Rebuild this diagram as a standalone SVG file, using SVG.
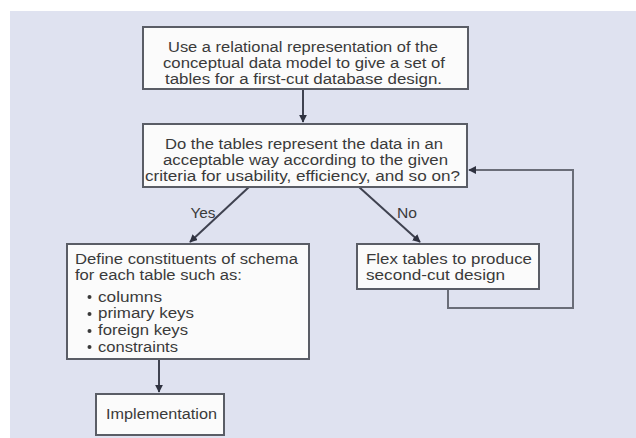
<svg xmlns="http://www.w3.org/2000/svg" width="636" height="438" viewBox="0 0 636 438">
<defs>
<style>
.box{fill:#fbfbfb;stroke:#5a5d66;stroke-width:2}
.t{font-family:"Liberation Sans",Arial,sans-serif;font-size:14px;fill:#3a3a3a}
.c{text-anchor:middle}
.ln{stroke:#3f4250;stroke-width:2;fill:none}
.lt{stroke:#6a6d78;stroke-width:2;fill:none}
.dot{fill:#3a3a3a}
</style>
<marker id="ah" viewBox="0 0 10 10" refX="9" refY="5" markerWidth="4" markerHeight="4" orient="auto">
<path d="M0,0 L10,5 L0,10 z" fill="#2f3240"/>
</marker>
</defs>
<rect x="0" y="0" width="636" height="438" fill="#ffffff"/>
<rect x="10" y="11" width="626" height="427" fill="#dfe2f0"/>
<g id="connectors">
<line class="ln" x1="303" y1="89" x2="303" y2="122" marker-end="url(#ah)"/>
<line class="ln" x1="249" y1="187" x2="190" y2="242" marker-end="url(#ah)"/>
<line class="ln" x1="359" y1="187" x2="420" y2="242" marker-end="url(#ah)"/>
<polyline class="lt" points="448,289 448,308 573,308 573,170 469,170" marker-end="url(#ah)"/>
<line class="ln" x1="159" y1="359" x2="159" y2="392" marker-end="url(#ah)"/>
<text class="t c" x="203" y="218" textLength="25" lengthAdjust="spacingAndGlyphs">Yes</text>
<text class="t c" x="407" y="218" textLength="20" lengthAdjust="spacingAndGlyphs">No</text>
</g>
<g id="n1">
<rect class="box" x="143" y="27" width="325" height="62"/>
<text class="t c" x="303" y="52" textLength="270" lengthAdjust="spacingAndGlyphs">Use a relational representation of the</text>
<text class="t c" x="304" y="68" textLength="282" lengthAdjust="spacingAndGlyphs">conceptual data model to give a set of</text>
<text class="t c" x="303.5" y="84" textLength="277" lengthAdjust="spacingAndGlyphs">tables for a first-cut database design.</text>
</g>
<g id="n2">
<rect class="box" x="143" y="124" width="324" height="63"/>
<text class="t c" x="304" y="149" textLength="278" lengthAdjust="spacingAndGlyphs">Do the tables represent the data in an</text>
<text class="t c" x="305.5" y="165" textLength="285" lengthAdjust="spacingAndGlyphs">acceptable way according to the given</text>
<text class="t c" x="302.5" y="181" textLength="315" lengthAdjust="spacingAndGlyphs">criteria for usability, efficiency, and so on?</text>
</g>
<g id="n3">
<rect class="box" x="67" y="244" width="242" height="115"/>
<text class="t" x="75" y="264" textLength="223" lengthAdjust="spacingAndGlyphs">Define constituents of schema</text>
<text class="t" x="75" y="280" textLength="167" lengthAdjust="spacingAndGlyphs">for each table such as:</text>
<circle class="dot" cx="89.5" cy="297" r="2"/>
<circle class="dot" cx="89.5" cy="314" r="2"/>
<circle class="dot" cx="89.5" cy="331" r="2"/>
<circle class="dot" cx="89.5" cy="347" r="2"/>
<text class="t" x="98" y="302" textLength="64" lengthAdjust="spacingAndGlyphs">columns</text>
<text class="t" x="98" y="318" textLength="96" lengthAdjust="spacingAndGlyphs">primary keys</text>
<text class="t" x="98" y="335" textLength="90" lengthAdjust="spacingAndGlyphs">foreign keys</text>
<text class="t" x="98" y="352" textLength="80" lengthAdjust="spacingAndGlyphs">constraints</text>
</g>
<g id="n4">
<rect class="box" x="357" y="244" width="182" height="45"/>
<text class="t" x="366" y="264" textLength="166" lengthAdjust="spacingAndGlyphs">Flex tables to produce</text>
<text class="t" x="366" y="280" textLength="139" lengthAdjust="spacingAndGlyphs">second-cut design</text>
</g>
<g id="n5">
<rect class="box" x="96" y="394" width="128" height="41"/>
<text class="t c" x="161.5" y="419" textLength="111" lengthAdjust="spacingAndGlyphs">Implementation</text>
</g>
</svg>
